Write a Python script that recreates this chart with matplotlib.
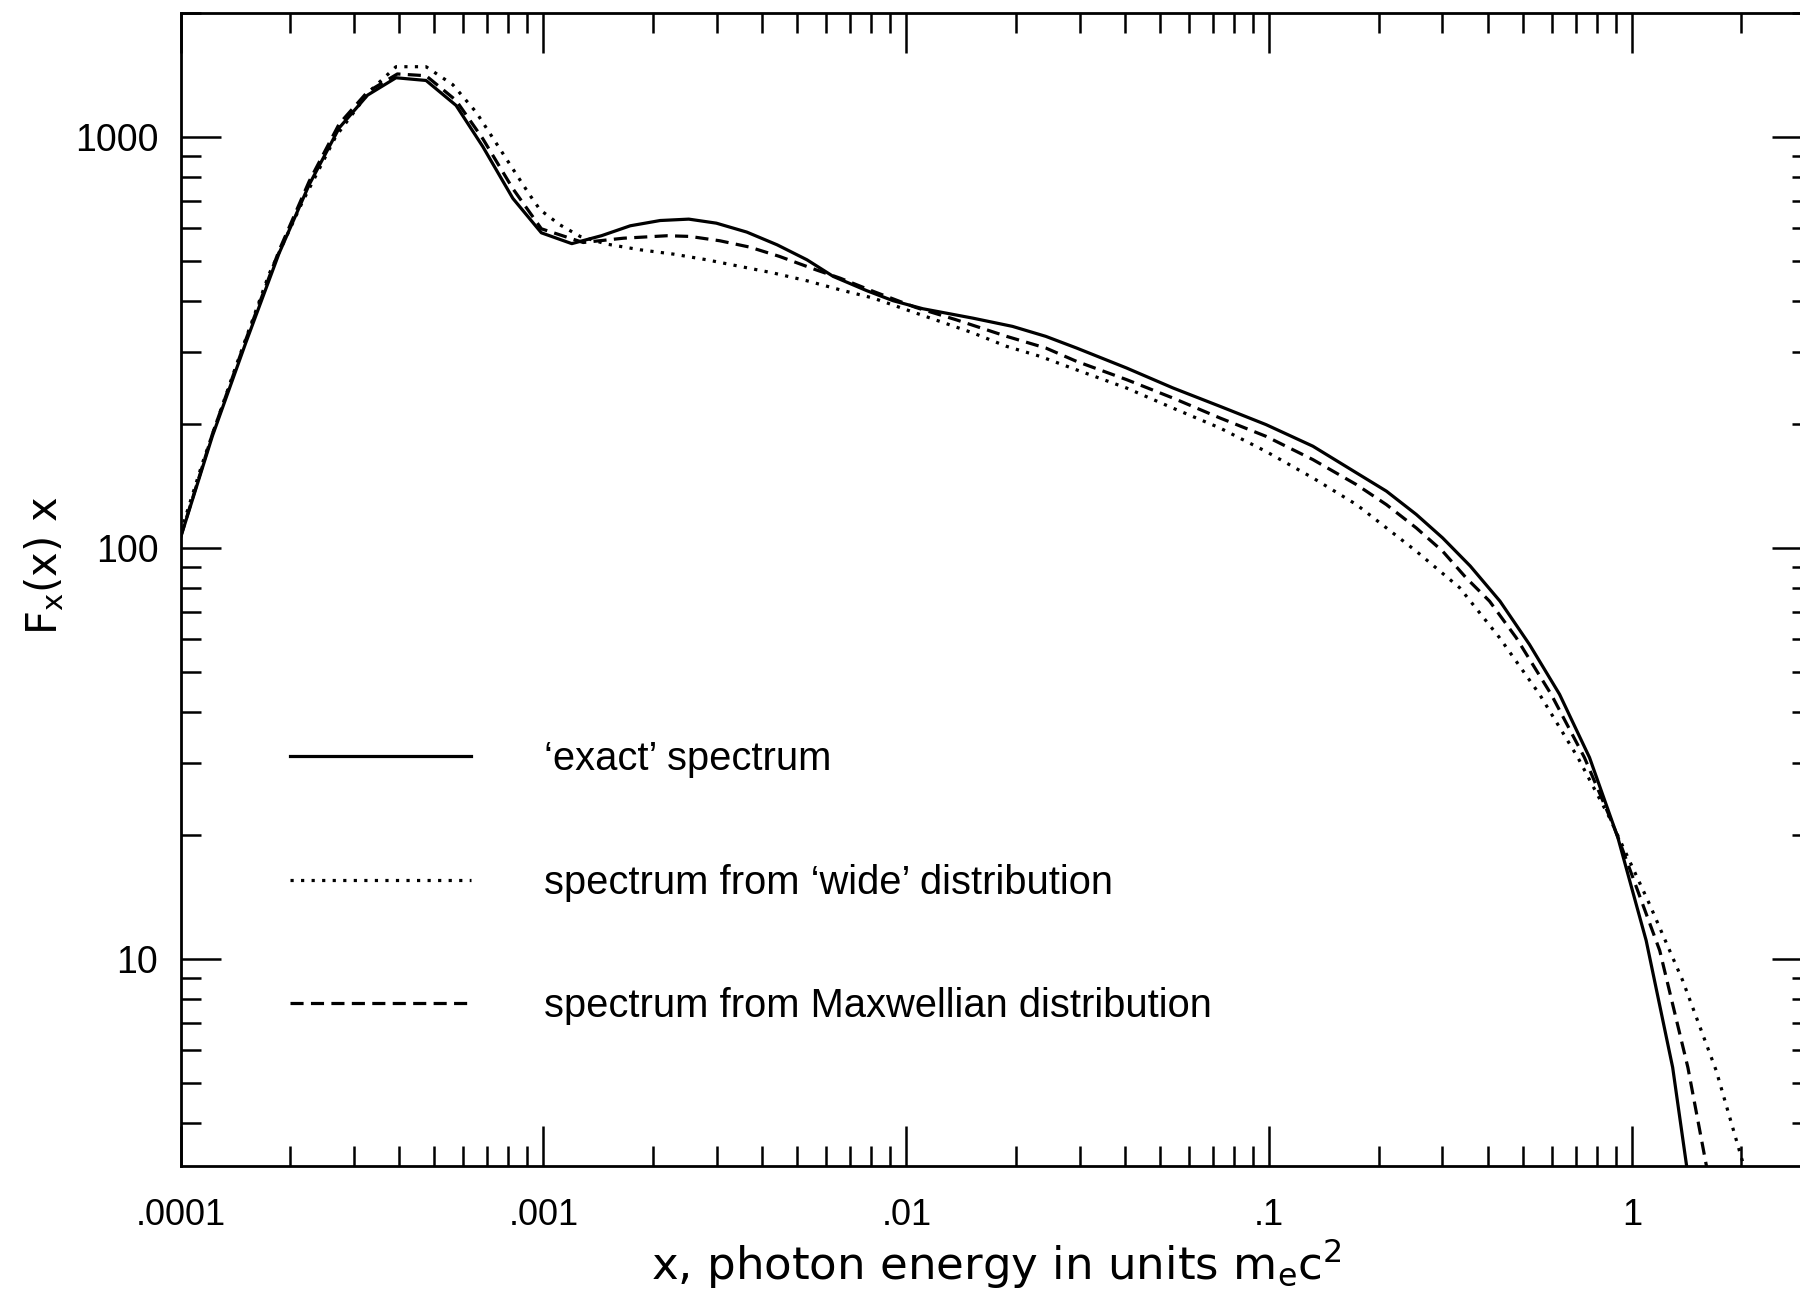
import matplotlib
matplotlib.use("Agg")
import matplotlib.pyplot as plt
from matplotlib.ticker import LogLocator, FixedLocator, FixedFormatter, NullFormatter

plt.rcParams['font.family'] = ['Liberation Sans', 'DejaVu Sans']

# 'exact' spectrum (solid)
x_exact = [1.0e-4, 1.224e-4, 1.512e-4, 1.868e-4, 2.262e-4, 2.737e-4, 3.277e-4, 3.924e-4,
           4.748e-4, 5.744e-4, 6.808e-4, 8.236e-4, 9.870e-4, 1.197e-3, 1.446e-3, 1.735e-3,
           2.097e-3, 2.515e-3, 2.995e-3, 3.633e-3, 4.406e-3, 5.322e-3, 6.292e-3, 7.774e-3,
           9.190e-3, 1.110e-2, 1.524e-2, 1.961e-2, 2.422e-2, 2.944e-2, 4.044e-2, 5.428e-2,
           7.316e-2, 9.792e-2, 0.1319, 0.1740, 0.2103, 0.2541, 0.3004, 0.3578, 0.4323,
           0.5212, 0.6308, 0.7629, 0.9130, 1.093, 1.293, 1.431]
f_exact = [106.0, 187.4, 315.5, 521.2, 766, 1053, 1265, 1394,
           1373, 1194, 947.5, 709.3, 584.9, 550.5, 575.6, 608.4,
           626.6, 631.5, 617.4, 587.3, 546.8, 502.9, 458.0, 423.1,
           399.9, 382.3, 362.7, 346.3, 327.5, 306.8, 274.3, 245.3,
           221.3, 199.8, 177.0, 152.4, 137.6, 120.8, 105.9, 90.5, 74.3,
           58.3, 44.1, 30.95, 19.78, 11.1, 5.455, 2.9]

# spectrum from 'wide' distribution (dotted)
x_wide = [1.0e-4, 1.148e-4, 1.418e-4, 1.753e-4, 2.168e-4, 2.679e-4, 3.312e-4, 3.924e-4,
          4.748e-4, 5.626e-4, 6.527e-4, 7.733e-4, 9.144e-4, 9.790e-4, 1.111e-3, 1.262e-3,
          1.494e-3, 1.845e-3, 2.282e-3, 2.818e-3, 3.479e-3, 4.301e-3, 5.312e-3, 6.557e-3,
          8.097e-3, 1.001e-2, 1.236e-2, 1.528e-2, 1.888e-2, 2.333e-2, 2.944e-2, 4.044e-2,
          5.428e-2, 7.316e-2, 9.792e-2, 0.1319, 0.1740, 0.2103, 0.2541, 0.3345, 0.4310,
          0.5556, 0.7085, 0.8658, 1.116, 1.378, 1.704, 1.975, 2.09]
f_wide = [109.1, 160.6, 275.5, 463.9, 695.8, 1004, 1290, 1483,
          1483, 1341, 1149, 911.7, 725.3, 665.2, 611.4, 573.2,
          549.1, 531.9, 519.1, 502.9, 484.6, 467.0, 447.3, 425.2,
          405.9, 380.1, 356.2, 333.7, 309.7, 292.9, 271.5, 245.2,
          219.1, 196.0, 171.9, 148.2, 127.6, 112.0, 98.3, 80.15, 60.56,
          44.1, 30.95, 22.12, 13.62, 8.87, 5.36, 3.42, 2.88]

# spectrum from Maxwellian distribution (dashed)
x_maxw = [1.0e-4, 1.224e-4, 1.512e-4, 1.868e-4, 2.262e-4, 2.737e-4, 3.277e-4, 3.958e-4,
          4.748e-4, 5.744e-4, 6.808e-4, 8.236e-4, 9.870e-4, 1.287e-3, 1.661e-3, 2.190e-3,
          2.533e-3, 3.062e-3, 3.700e-3, 4.470e-3, 5.649e-3, 6.574e-3, 8.126e-3, 1.061e-2,
          1.371e-2, 1.889e-2, 2.422e-2, 2.944e-2, 4.044e-2, 5.428e-2, 7.316e-2, 9.792e-2,
          0.1319, 0.1740, 0.2103, 0.2541, 0.3004, 0.3486, 0.4046, 0.4791, 0.5981, 0.7387,
          0.8844, 0.922, 1.191, 1.424, 1.632]
f_maxw = [106.3, 189.5, 320.9, 529.5, 780.6, 1077, 1289, 1424,
          1410, 1228, 990.4, 749, 598.2, 554, 567.5, 575.4,
          573.2, 559.4, 539.9, 512.5, 475.1, 453.6, 421.0, 385.1,
          359.4, 327.5, 306.8, 284.7, 257.0, 231.8, 207.3, 187.1,
          164.2, 142.7, 127.6, 112.0, 98.3, 84.7, 74.3, 60.56, 44.1, 30.95,
          21.3, 19.4, 10.5, 5.455, 2.88]

labels = ['\u2018exact\u2019 spectrum',
          'spectrum from \u2018wide\u2019 distribution',
          'spectrum from Maxwellian distribution']

x_ticks = [1e-4, 1e-3, 1e-2, 1e-1, 1]
x_ticklabels = ['.0001', '.001', '.01', '.1', '1']
y_ticks = [10, 100, 1000]
y_ticklabels = ['10', '100', '1000']

fig = plt.figure(figsize=(18, 12.93), dpi=100)
ax = fig.add_axes([0.1003, 0.0982, 0.9062, 0.8915])
ax.set_xscale('log')
ax.set_yscale('log')

lw = 2.3
ax.plot(x_exact, f_exact, color='black', lw=lw, ls='-', label=labels[0])
ax.plot(x_wide, f_wide, color='black', lw=lw, ls=(0, (1.0, 2.3)), label=labels[1])
ax.plot(x_maxw, f_maxw, color='black', lw=lw, ls=(0, (4.1, 2.3)), label=labels[2])

ax.set_xlim(1e-4, 3.124)
ax.set_ylim(3.14, 2000)

ax.xaxis.set_major_locator(FixedLocator(x_ticks))
ax.xaxis.set_major_formatter(FixedFormatter(x_ticklabels))
ax.yaxis.set_major_locator(FixedLocator(y_ticks))
ax.yaxis.set_major_formatter(FixedFormatter(y_ticklabels))
ax.xaxis.set_minor_locator(LogLocator(base=10, subs=range(2, 10), numticks=50))
ax.yaxis.set_minor_locator(LogLocator(base=10, subs=range(2, 10), numticks=50))
ax.xaxis.set_minor_formatter(NullFormatter())
ax.yaxis.set_minor_formatter(NullFormatter())

ax.tick_params(which='both', direction='in', top=True, right=True, width=1.8, color='black')
ax.tick_params(which='major', length=28.8)
ax.tick_params(which='minor', length=14.4)
ax.tick_params(axis='x', which='major', labelsize=26, pad=23)
ax.tick_params(axis='y', which='major', labelsize=27, pad=16)
for s in ax.spines.values():
    s.set_linewidth(2.0)

ax.set_xlabel(r'x, photon energy in units m$_{\mathregular{e}}$c$^{\mathregular{2}}$',
              fontsize=32.5, family='DejaVu Sans')
ax.xaxis.set_label_coords(0.5, -0.062)
ax.set_ylabel(r'F$_{\mathregular{x}}$(x) x', fontsize=30, family='DejaVu Sans')
ax.yaxis.set_label_coords(-0.0702, 0.521)

ax.legend(loc='upper left', bbox_to_anchor=(0.0671, 0.3694), frameon=False,
          fontsize=28.7, handlelength=4.54, handletextpad=1.83, labelspacing=2.14,
          borderpad=0, borderaxespad=0)

fig.savefig('out.png', dpi=100)
